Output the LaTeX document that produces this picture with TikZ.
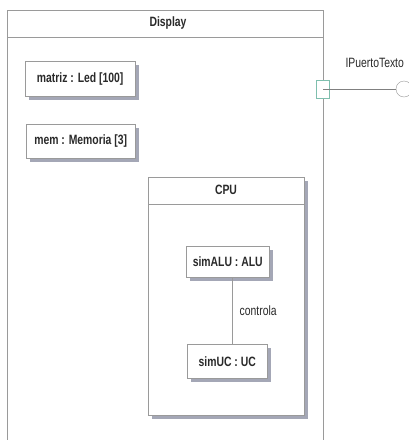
\documentclass[tikz,border=0pt]{standalone}
\usepackage{fontspec}
\setmainfont{Liberation Sans}[FakeStretch=0.77]
\usepackage{tikz}
\usetikzlibrary{positioning, calc, shadows}
\definecolor{umlgray}{HTML}{9A9A9A}
\definecolor{umlshadow}{HTML}{A4A7B6}
\definecolor{umlport}{HTML}{7FBFAE}
\definecolor{umltext}{HTML}{2A2A2A}

\tikzset{
    umlshade/.style={drop shadow={shadow xshift=3.5pt, shadow yshift=-3.5pt, fill=umlshadow, opacity=1}},
    part/.style={draw=umlgray, fill=white, inner sep=0pt, umlshade, text=umltext, font=\fontsize{13.5}{16}\selectfont\bfseries},
    title/.style={text=umltext, font=\fontsize{13.5}{16}\selectfont\bfseries},
}

\begin{document}
\begin{tikzpicture}[x=1pt, y=-1pt, font=\fontsize{13.5}{16}\selectfont]
    \clip (0,0) rectangle (409,440);
    \fill[white] (0,0) rectangle (409,440);

    % Display component
    \node[draw=umlgray, line width=1pt, minimum width=316pt, minimum height=460pt, anchor=north west] (display) at (7,10) {};
    \draw[umlgray] ($(display.north west)+(0,27)$) -- ($(display.north east)+(0,27)$);
    \node[title] (dtitle) at (168,23) {Display};

    % parts
    \node[part, minimum width=110pt, minimum height=35pt, anchor=north west] (matriz) at (25,61) {matriz : Led [100]};
    \node[part, minimum width=109pt, minimum height=34pt, anchor=north west] (mem) at (26,124) {mem : Memoria [3]};

    % CPU
    \node[part, minimum width=156pt, minimum height=238pt, anchor=north west] (cpu) at (148,177) {};
    \draw[umlgray] ($(cpu.north west)+(0,27)$) -- ($(cpu.north east)+(0,27)$);
    \node[title] (ctitle) at (226,190) {CPU};

    \node[part, minimum width=83pt, minimum height=31pt, anchor=north west] (alu) at (186,246) {simALU : ALU};
    \node[part, minimum width=80pt, minimum height=34pt, anchor=north west] (uc) at (187,344) {simUC : UC};

    \draw[umlgray, line width=0.8pt] (alu.south -| 232,0) -- node[right=4pt, text=umltext] (controla) {controla} (uc.north -| 232,0);

    % port and provided interface
    \node[draw=umlport, fill=white, minimum width=13pt, minimum height=18pt, inner sep=0pt] (port) at (323,89) {};
    \node[draw=umlgray, fill=white, circle, minimum size=16pt, inner sep=0pt] (iface) at (404,89) {};
    \draw[gray, line width=0.8pt] (port.center) -- (iface.west);
    \node[anchor=south west, text=umltext] (ilabel) at (342,71) {IPuertoTexto};
\end{tikzpicture}
\end{document}
